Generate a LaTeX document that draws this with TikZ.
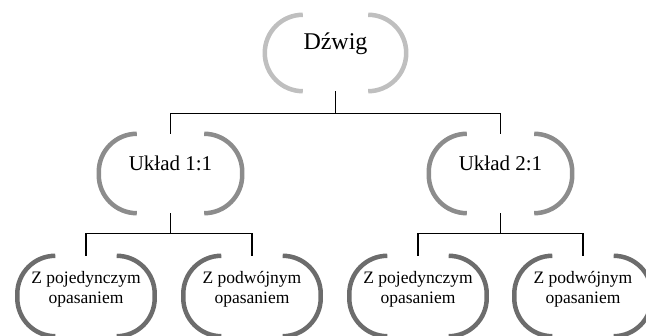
\documentclass[tikz,border=0pt]{standalone}
\usepackage{fontspec}
\setmainfont{Liberation Serif}
\usepackage{tikz}
\usetikzlibrary{calc}
\definecolor{bracketA}{RGB}{191,191,191}
\definecolor{bracketB}{RGB}{140,140,140}
\definecolor{bracketC}{RGB}{108,108,108}
\tikzset{
  topbox/.style={rectangle, inner sep=0pt, minimum width=141pt, minimum height=76pt},
  midbox/.style={rectangle, inner sep=0pt, minimum width=143pt, minimum height=79pt},
  leafbox/.style={rectangle, inner sep=0pt, minimum width=137pt, minimum height=80pt},
  brack/.style={line width=4.5pt, draw=#1},
  conn/.style={black, line width=1.2pt},
  toptext/.style={font=\fontsize{24}{28}\selectfont},
  midtext/.style={font=\fontsize{21}{25}\selectfont},
  leaftext/.style={font=\fontsize{17.5}{20}\selectfont, align=center},
}

\begin{document}
\begin{tikzpicture}[x=1pt,y=1pt]
  \useasboundingbox (0,0) rectangle (646,336);
  % Boxes (bracket shapes drawn below)
  \node[topbox] (dzwig) at (335.5,283) {};
  \node[midbox] (uklA) at (170.5,162.5) {};
  \node[midbox] (uklB) at (500.5,162.5) {};
  \node[leafbox] (lfA) at (86,40) {};
  \node[leafbox] (lfB) at (252,40) {};
  \node[leafbox] (lfC) at (418,40) {};
  \node[leafbox] (lfD) at (583,40) {};
  % Texts
  \node[toptext] (dzwig-t) at ([yshift=9pt]dzwig.center) {Dźwig};
  \node[midtext] (uklA-t) at ([yshift=10pt]uklA.center) {Układ 1:1};
  \node[midtext] (uklB-t) at ([yshift=10pt]uklB.center) {Układ 2:1};
  \node[leaftext] (lfA-t) at ([yshift=7pt]lfA.center) {Z pojedynczym\\opasaniem};
  \node[leaftext] (lfB-t) at ([yshift=7pt]lfB.center) {Z podwójnym\\opasaniem};
  \node[leaftext] (lfC-t) at ([yshift=7pt]lfC.center) {Z pojedynczym\\opasaniem};
  \node[leaftext] (lfD-t) at ([yshift=7pt]lfD.center) {Z podwójnym\\opasaniem};
  % Brackets
  \foreach \n/\c in {dzwig/bracketA, uklA/bracketB, uklB/bracketB,
                     lfA/bracketC, lfB/bracketC, lfC/bracketC, lfD/bracketC} {
    \draw[brack=\c] ([xshift=38pt]\n.north west) arc (90:180:38pt)
      -- ([yshift=38pt]\n.south west) arc (180:270:38pt);
    \draw[brack=\c] ([xshift=-38pt]\n.north east) arc (90:0:38pt)
      -- ([yshift=38pt]\n.south east) arc (0:-90:38pt);
  }
  % Connectors
  \draw[conn] (dzwig.south) -- ++(0,-22) coordinate (j0) -| (uklA.north);
  \draw[conn] (j0) -| (uklB.north);
  \draw[conn] (uklA.south) -- ++(0,-20.5) coordinate (j1) -| (lfA.north);
  \draw[conn] (j1) -| (lfB.north);
  \draw[conn] (uklB.south) -- ++(0,-20.5) coordinate (j2) -| (lfC.north);
  \draw[conn] (j2) -| (lfD.north);
\end{tikzpicture}
\end{document}
